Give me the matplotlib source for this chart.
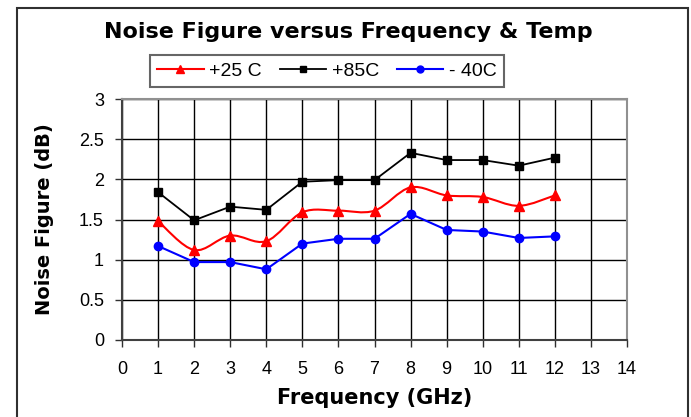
import numpy as np
import matplotlib
matplotlib.use("Agg")
import matplotlib.pyplot as plt
from matplotlib.path import Path
from matplotlib.patches import PathPatch, Rectangle

plt.rcParams['font.family'] = ['Liberation Sans', 'DejaVu Sans']

# data
freq = [1, 2, 3, 4, 5, 6, 7, 8, 9, 10, 11, 12]
nf_25 = [1.48, 1.12, 1.30, 1.23, 1.59, 1.61, 1.61, 1.90, 1.80, 1.78, 1.67, 1.80]
nf_85 = [1.84, 1.49, 1.66, 1.62, 1.97, 1.99, 1.99, 2.33, 2.24, 2.24, 2.17, 2.27]
nf_m40 = [1.17, 0.97, 0.97, 0.88, 1.20, 1.26, 1.26, 1.57, 1.37, 1.35, 1.27, 1.29]
labels = ['+25 C', '+85C', '- 40C']
x_ticks = list(range(0, 15))
y_ticks = [0, 0.5, 1, 1.5, 2, 2.5, 3]

# wider bold face stands in for the letter-spaced Arial headings
head_font = ['DejaVu Sans']


def smooth_path(x, y, t=1/6):
    # catmull-rom style bezier through the points (like Excel's smoothed line)
    x = np.asarray(x, float)
    y = np.asarray(y, float)
    verts = [(x[0], y[0])]
    codes = [Path.MOVETO]
    n = len(x)
    for i in range(n - 1):
        p0 = i - 1 if i > 0 else i
        p3 = i + 2 if i + 2 < n else i + 1
        c1 = (x[i] + (x[i+1] - x[p0]) * t, y[i] + (y[i+1] - y[p0]) * t)
        c2 = (x[i+1] - (x[p3] - x[i]) * t, y[i+1] - (y[p3] - y[i]) * t)
        verts += [c1, c2, (x[i+1], y[i+1])]
        codes += [Path.CURVE4] * 3
    return Path(verts, codes)


fig = plt.figure(figsize=(6.91, 4.17), dpi=100)
fig.patches.append(Rectangle((17/691, -0.1), 671/691, 1 - 8/417 + 0.1,
                             transform=fig.transFigure, fill=False,
                             edgecolor='#303030', linewidth=1.5))

ax = fig.add_axes([122/691, 1 - 340/417, 505/691, 241/417])

ax.add_patch(PathPatch(smooth_path(freq, nf_25), fill=False, edgecolor='red',
                       linewidth=1.5, zorder=3))
ax.plot(freq, nf_25, color='red', linestyle='none', marker='^',
        markersize=7, zorder=4)
ax.plot(freq, nf_85, color='black', linewidth=1.3, marker='s',
        markersize=6, zorder=4)
ax.plot(freq, nf_m40, color='blue', linewidth=1.5, marker='o',
        markersize=6, zorder=4)

ax.set_xlim(0, 14)
ax.set_ylim(0, 3)
ax.set_xticks(x_ticks)
ax.set_yticks(y_ticks)
ax.set_yticklabels(['0', '0.5', '1', '1.5', '2', '2.5', '3'])
ax.grid(True, color='black', linewidth=1)
ax.set_axisbelow(True)
ax.tick_params(direction='out', length=5, width=1, labelsize=13, color='#303030')
ax.tick_params(axis='x', pad=10)
ax.tick_params(axis='y', pad=8)
for side in ['top', 'right']:
    ax.spines[side].set_color('#909090')
    ax.spines[side].set_linewidth(1.5)
for side in ['left', 'bottom']:
    ax.spines[side].set_color('#404040')
    ax.spines[side].set_linewidth(1.5)

ax.set_xlabel('Frequency (GHz)', fontsize=15, fontweight='bold', labelpad=7,
              family=head_font)
ax.set_ylabel('Noise Figure (dB)', fontsize=14, fontweight='bold', labelpad=18,
              family=head_font)

fig.text(348/691, 1 - 32/417, 'Noise Figure versus Frequency & Temp',
         ha='center', va='center', fontsize=16, fontweight='bold',
         family=head_font)

l1_leg, = ax.plot([], [], color='red', linewidth=1.5, marker='^', markersize=6)
l2_leg, = ax.plot([], [], color='black', linewidth=1.3, marker='s', markersize=5)
l3_leg, = ax.plot([], [], color='blue', linewidth=1.5, marker='o', markersize=5)
leg = fig.legend([l1_leg, l2_leg, l3_leg], labels, ncol=3,
                 loc='center', bbox_to_anchor=(327/691, 1 - 71/417),
                 fontsize=14, frameon=True, fancybox=False, handlelength=2.4,
                 handletextpad=0.3, columnspacing=0.9, borderpad=0.35)
leg.get_frame().set_edgecolor('#404040')
leg.get_frame().set_linewidth(1.5)

fig.savefig('out.png', dpi=100)
